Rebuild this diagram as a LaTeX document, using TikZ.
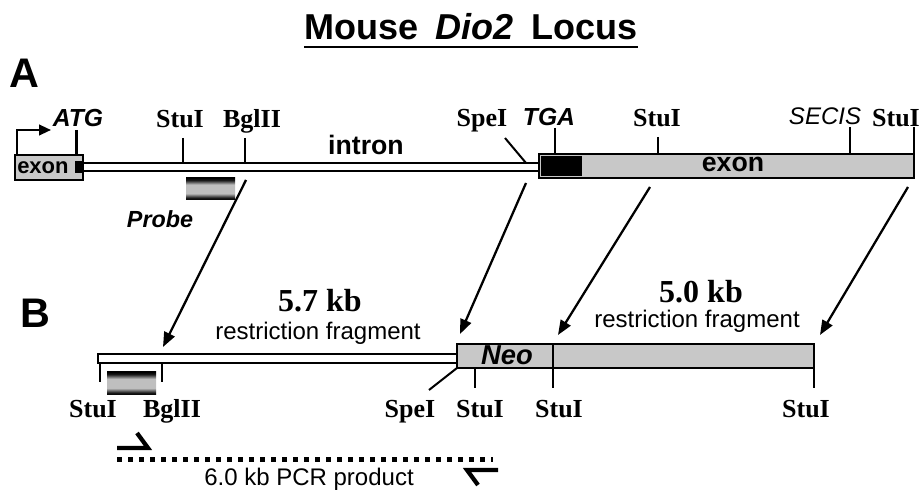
\documentclass[tikz,border=0pt]{standalone}
\usepackage{fontspec}
\setmainfont{Liberation Sans}
\newfontfamily\tmsfont{Liberation Serif}
\usetikzlibrary{arrows.meta}
\newcommand\myfs[1]{\fontsize{#1}{#1}\selectfont}
\definecolor{boxgray}{RGB}{200,200,200}
\pgfdeclareverticalshading{probeshade}{100bp}{color(0bp)=(black); color(25bp)=(black); color(30bp)=(black!90); color(40bp)=(white!75!black); color(60bp)=(white!75!black); color(70bp)=(black!90); color(75bp)=(black); color(100bp)=(black)}
\tikzset{
  lbl/.style={inner sep=0pt, anchor=base},
  site/.style={lbl, font=\tmsfont\bfseries\myfs{19.5}},
  tick/.style={line width=1.7pt},
  strand/.style={draw=black, line width=1.1pt},
  exonbox/.style={draw=black, fill=boxgray, line width=1.1pt},
  maparrow/.style={line width=1.7pt, -{Triangle[length=11pt,width=8.5pt]}},
  primer/.style={line width=3.2pt, line join=miter},
  probebox/.style={shading=probeshade}
}
\begin{document}
\begin{tikzpicture}[x=0.75pt,y=-0.75pt]
\useasboundingbox (0,0) rectangle (921,491);

% title
\node[lbl] (title) at (471,40) {\bfseries\myfs{27}Mouse\hspace{13pt}\textit{Dio2}\hspace{13pt}Locus};
\draw[line width=1.6pt] ([yshift=-5pt]title.base west) -- ([yshift=-5pt]title.base east);

% panel letters
\node[lbl, anchor=base west] (la) at (9,88) {\bfseries\myfs{31}A};
\node[lbl, anchor=base west] (lb) at (20,328) {\bfseries\myfs{31}B};

% ---------- Panel A ----------
\draw[strand, fill=white] (83,163) rectangle (539,171);
\draw[exonbox] (15,155) rectangle (83,180);
\fill[black] (75,161) rectangle (83,173);
\node[lbl, anchor=base west] (exontxt1) at (17,174) {\bfseries\myfs{16.5}exon};
\draw[exonbox] (539,154) rectangle (914,178);
\fill[black] (541,156) rectangle (582,176);
\node[lbl] (exontxt2) at (733,172) {\bfseries\myfs{20}exon};
\node[lbl] (introntxt) at (366,155) {\bfseries\myfs{20}intron};

% promoter arrow
\coordinate (p0) at (17,155);
\coordinate (p1) at (17,130);
\coordinate (p2) at (51,130);
\draw[line width=1.6pt, -{Triangle[length=9pt,width=8pt]}] (p0) -- (p1) -- (p2);

% ticks panel A
\coordinate (atgT) at (76.5,130); \coordinate (atgB) at (76.5,155);
\draw[tick] (atgT) -- (atgB);
\coordinate (s1T) at (183,138); \coordinate (s1B) at (183,163);
\draw[tick] (s1T) -- (s1B);
\coordinate (b1T) at (245,138); \coordinate (b1B) at (245,163);
\draw[tick] (b1T) -- (b1B);
\coordinate (speT) at (505,138); \coordinate (speB) at (526,163);
\draw[line width=1.5pt] (speT) -- (speB);
\coordinate (tgaT) at (555,128); \coordinate (tgaB) at (555,154);
\draw[tick] (tgaT) -- (tgaB);
\coordinate (s2T) at (658,137); \coordinate (s2B) at (658,154);
\draw[tick] (s2T) -- (s2B);
\coordinate (secT) at (850,127); \coordinate (secB) at (850,154);
\draw[tick] (secT) -- (secB);
\coordinate (s3T) at (914,127); \coordinate (s3B) at (914,160);
\draw[tick] (s3T) -- (s3B);

% labels panel A
\node[lbl] (atg) at (78,127) {\bfseries\itshape\myfs{18.5}ATG};
\node[site] (stuA1) at (180,128) {StuI};
\node[site] (bglA) at (252,128) {BglII};
\node[site] (speA) at (482,127) {SpeI};
\node[lbl] (tga) at (549,126) {\bfseries\itshape\myfs{18.5}TGA};
\node[site] (stuA2) at (657,127) {StuI};
\node[lbl] (secis) at (825,125) {\itshape\myfs{18}SECIS};
\node[site] (stuA3) at (896,127) {StuI};

% probe A
\shade[probebox] (186,178) rectangle (235,200);
\node[lbl] (probetxt) at (160,228) {\bfseries\itshape\myfs{17.5}Probe};

% ---------- Panel B ----------
\draw[strand, fill=white] (98,354) rectangle (457,363);
\draw[exonbox] (457,344) rectangle (553,368);
\draw[exonbox] (553,344) rectangle (814,368);
\node[lbl] (neo) at (507,365) {\bfseries\itshape\myfs{20.5}Neo};

\node[lbl] (kb57) at (320,312) {\tmsfont\bfseries\myfs{24}5.7 kb};
\node[lbl] (rf1) at (318,340) {\myfs{18}restriction fragment};
\node[lbl] (kb50) at (701,303) {\tmsfont\bfseries\myfs{24}5.0 kb};
\node[lbl] (rf2) at (697,328) {\myfs{18}restriction fragment};

% ticks panel B
\coordinate (bs1T) at (100,363); \coordinate (bs1B) at (100,382);
\draw[tick] (bs1T) -- (bs1B);
\coordinate (bb1T) at (162,363); \coordinate (bb1B) at (162,382);
\draw[tick] (bb1T) -- (bb1B);
\coordinate (bs2T) at (475,368); \coordinate (bs2B) at (475,388);
\draw[tick] (bs2T) -- (bs2B);
\coordinate (bs3T) at (553,368); \coordinate (bs3B) at (553,388);
\draw[tick] (bs3T) -- (bs3B);
\coordinate (bs4T) at (814,368); \coordinate (bs4B) at (814,388);
\draw[tick] (bs4T) -- (bs4B);
\coordinate (bspeT) at (457,368); \coordinate (bspeB) at (429,390);
\draw[line width=1.5pt] (bspeT) -- (bspeB);

% probe B
\shade[probebox] (107,372) rectangle (156,395);

% labels panel B
\node[site] (stuB1) at (93,418) {StuI};
\node[site] (bglB) at (172,418) {BglII};
\node[site] (speB) at (410,418) {SpeI};
\node[site] (stuB2) at (480,418) {StuI};
\node[site] (stuB3) at (559,418) {StuI};
\node[site] (stuB4) at (806,418) {StuI};

% arrows A -> B
\coordinate (a1s) at (246,180); \coordinate (a1e) at (163,347);
\draw[maparrow] (a1s) -- (a1e);
\coordinate (a2s) at (526,183); \coordinate (a2e) at (460,334);
\draw[maparrow] (a2s) -- (a2e);
\coordinate (a3s) at (650,187); \coordinate (a3e) at (558,335);
\draw[maparrow] (a3s) -- (a3e);
\coordinate (a4s) at (908,187); \coordinate (a4e) at (820,335);
\draw[maparrow] (a4s) -- (a4e);

% PCR product
\coordinate (pcrL) at (117,459.5); \coordinate (pcrR) at (493,459.5);
\draw[line width=3.8pt, dash pattern=on 4.1pt off 4.15pt] (pcrL) -- (pcrR);
\coordinate (f0) at (117,448); \coordinate (f1) at (148,448); \coordinate (f2) at (137,433);
\draw[primer] (f0) -- (f1) -- (f2);
\coordinate (r0) at (498,470); \coordinate (r1) at (467,470); \coordinate (r2) at (478,485);
\draw[primer] (r0) -- (r1) -- (r2);
\node[lbl] (pcrtxt) at (309,485) {\myfs{18}6.0 kb PCR product};
\end{tikzpicture}
\end{document}
